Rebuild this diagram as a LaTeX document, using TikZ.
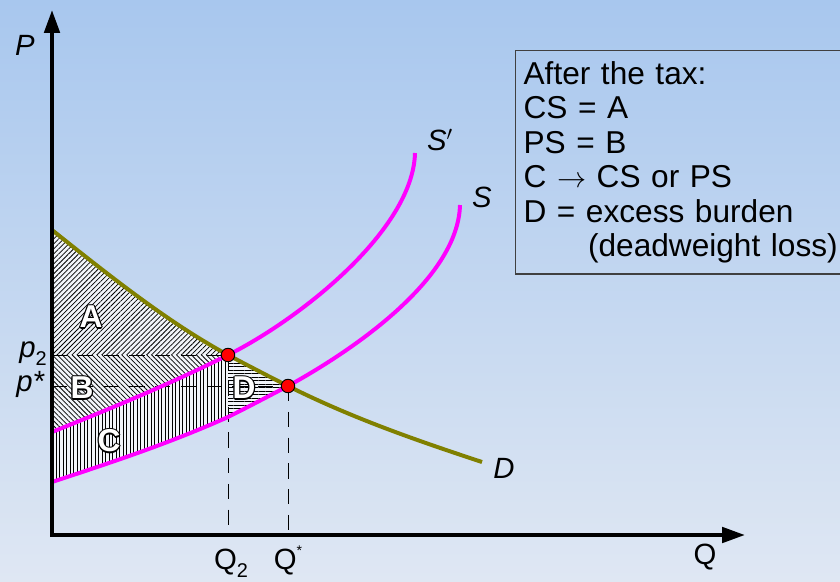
\documentclass[tikz,border=0pt]{standalone}
\usepackage{fontspec}
\setmainfont{Liberation Sans}
\usetikzlibrary{arrows.meta,patterns.meta}
\definecolor{bgtop}{RGB}{168,199,238}
\definecolor{bgmid}{RGB}{213,224,242}
\definecolor{bgbot}{RGB}{223,231,243}
\definecolor{demcol}{RGB}{128,128,0}
\definecolor{supcol}{RGB}{255,0,255}
\newcommand{\bigfont}{\fontsize{25}{30}\selectfont}
\newcommand{\subfont}{\fontsize{17}{20}\selectfont}
\tikzset{
  axis/.style={line width=3.4pt,
    {Triangle[length=19.5pt,width=13pt]}-{Triangle[length=19.5pt,width=13pt]}},
  demand/.style={draw=demcol, line width=3.4pt},
  supply/.style={draw=supcol, line width=3.4pt},
  guide/.style={draw=black, line width=0.8pt, dash pattern=on 13pt off 9pt},
  eqdot/.style={circle, draw=black, fill=red, line width=0.8pt,
    minimum size=11.5pt, inner sep=0pt},
  axlbl/.style={font=\bigfont, inner sep=0pt},
  hatch/.style={preaction={fill=white!60!bgbot},
    pattern={Lines[angle=#1,distance=3pt,line width=0.65pt]}},
  arealbl/.style={font=\fontsize{27}{30}\selectfont\bfseries, inner sep=0pt},
  infobox/.style={draw=black!75, line width=1.1pt, anchor=north west,
    inner xsep=6.8pt, inner ysep=9pt, text width=300pt, align=left,
    font=\fontsize{27}{29.5}\selectfont}
}
\newcommand{\AreaLabel}[3]{%
  \foreach \dx/\dy in {-1/0,1/0,0/-1,0/1,-.7/-.7,.7/.7,-.7/.7,.7/-.7}
    \node[arealbl, text=black, xshift=\dx pt, yshift=\dy pt] at (#2) {#3};
  \node[arealbl, text=white] (#1) at (#2) {#3};
}
\begin{document}
\begin{tikzpicture}[x=0.03cm, y=-0.03cm]
  \useasboundingbox (0,0) rectangle (840,581);
  \shade[top color=bgtop, middle color=bgmid, bottom color=bgbot] (0,0) rectangle (840,581);

  % points
  \coordinate (O) at (52,535);
  \coordinate (ytop) at (52,10);
  \coordinate (xend) at (745,535);
  \coordinate (d0) at (52,230);
  \coordinate (d1) at (482,462);
  \coordinate (t0) at (52,432);
  \coordinate (t1) at (415,153);
  \coordinate (s0) at (52,482);
  \coordinate (s1) at (460,205);
  \coordinate (E2) at (228,355);
  \coordinate (E1) at (288,386);
  \coordinate (sq2) at (228,417);
  \coordinate (p2ax) at (52,355);
  \coordinate (psax) at (52,386);
  \coordinate (q2ax) at (228,535);
  \coordinate (qsax) at (288,535);

  % shaded areas
  \path[hatch=45] (d0) .. controls (111,277) and (169,323) .. (E2) -- (p2ax) -- cycle;
  \path[hatch=-45] (p2ax) -- (E2) .. controls (169,384.5) and (111,408.4) .. (t0) -- cycle;
  \path[hatch=90] (t0) .. controls (111,408.4) and (169,384.5) .. (E2) -- (sq2)
    .. controls (169,443.5) and (111,462.5) .. (s0) -- cycle;
  \path[hatch=0] (E2) .. controls (248,365.5) and (268,376) .. (E1)
    .. controls (268,396.5) and (248,407) .. (sq2) -- cycle;

  \draw[guide] (p2ax) -- (E2);
  \draw[guide] (psax) -- (E1);
  \draw[guide] (E2) -- (q2ax);
  \draw[guide] (E1) -- (qsax);

  \AreaLabel{lblA}{91,317}{A}
  \AreaLabel{lblB}{82,388}{B}
  \AreaLabel{lblC}{109,441}{C}
  \AreaLabel{lblD}{244,388}{D}

  % curves
  \draw[demand] (d0) .. controls (111,277) and (169,323) .. (E2)
    .. controls (248,365.5) and (268,376) .. (E1)
    .. controls (353,418.5) and (417,440.5) .. (d1);
  \draw[supply] (t0) .. controls (111,408.4) and (169,384.5) .. (E2)
    .. controls (300,319) and (413,230) .. (t1);
  \draw[supply] (s0) .. controls (111,462.5) and (169,443.5) .. (sq2)
    .. controls (248,407) and (268,396.5) .. (E1)
    .. controls (350,352) and (458,280) .. (s1);

  \draw[axis] (ytop) -- (O) -- (xend);

  \node[eqdot] (dotE2) at (E2) {};
  \node[eqdot] (dotE1) at (E1) {};

  % labels
  \node[axlbl, font=\bigfont\itshape] (Plbl) at (25,45) {P};
  \node[axlbl] (Qlbl) at (705,557) {Q};
  \node[axlbl, anchor=base] (Q2lbl) at (231,569) {Q\raisebox{-0.3em}{\subfont 2}};
  \node[axlbl, anchor=base] (Qslbl) at (288,569) {Q\raisebox{0.45em}{\fontsize{12}{12}\selectfont *}};
  \node[axlbl, anchor=base east] (p2lbl) at (47,357) {\textit{p}\raisebox{-0.3em}{\subfont 2}};
  \node[axlbl, anchor=base east] (pslbl) at (45,391) {\textit{p*}};
  \node[axlbl, font=\bigfont\itshape] (Stlbl) at (440,140) {S$'$};
  \node[axlbl, font=\bigfont\itshape] (Slbl) at (482,197) {S};
  \node[axlbl, font=\bigfont\itshape] (Dlbl) at (504,468) {D};

  \node[infobox] (taxbox) at (515,50) {After the tax:\\
    CS = A\\
    PS = B\\
    C $\rightarrow$ CS or PS\\
    D = excess burden\\
    \hspace*{55pt}(deadweight loss)};
\end{tikzpicture}
\end{document}
